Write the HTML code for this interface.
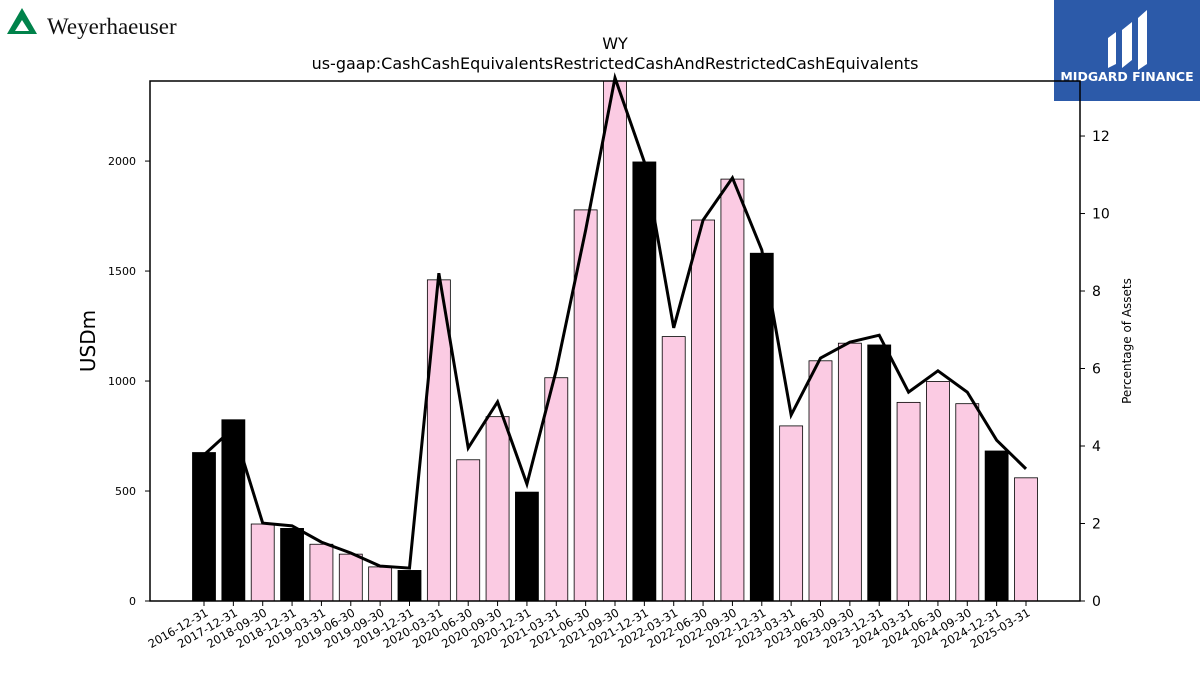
<!DOCTYPE html>
<html><head><meta charset="utf-8"><style>
body{margin:0;background:#fff;}
svg text{font-family:"DejaVu Sans","Liberation Sans",sans-serif;}
</style></head><body>
<svg id="chart" width="1200" height="675" xmlns="http://www.w3.org/2000/svg">
<rect width="1200" height="675" fill="#fff"/>
<g>
<polygon points="22,8 7,34 37,34" fill="#00824a"/>
<polygon points="22,20 15,31 29,31" fill="#fff"/>
<text x="47" y="34" font-family="Liberation Serif,serif" font-size="23" fill="#111" style="font-family:'Liberation Serif',serif">Weyerhaeuser</text>
</g>
<g>
<rect x="1054" y="0" width="146" height="101" fill="#2c5aa9"/>
<path d="M1108,68 L1108,38 L1116,32 L1116,64 Z M1122,68 L1122,30 L1132,22 L1132,60 Z M1138,70 L1138,18 L1147,10 L1147,64 Z" fill="#fff"/>
<text x="1127" y="81" font-size="12.5" font-weight="bold" fill="#fff" text-anchor="middle">MIDGARD FINANCE</text>
</g>
<text x="615" y="49" font-size="16" text-anchor="middle">WY</text>
<text x="615" y="69" font-size="16" text-anchor="middle">us-gaap:CashCashEquivalentsRestrictedCashAndRestrictedCashEquivalents</text>
<g id="bars"></g><g id="xt"></g><g id="yl"></g><g id="yr"></g>
<path id="line" fill="none" stroke="#000" stroke-width="3"/>
<rect x="150" y="81" width="930" height="520" fill="none" stroke="#000" stroke-width="1.5"/>
<text transform="translate(95,341) rotate(-90)" font-size="20" text-anchor="middle">USDm</text>
<text transform="translate(1131,341) rotate(-90)" font-size="12" text-anchor="middle">Percentage of Assets</text>
</svg>
<script>
const categories=["2016-12-31","2017-12-31","2018-09-30","2018-12-31","2019-03-31","2019-06-30","2019-09-30","2019-12-31","2020-03-31","2020-06-30","2020-09-30","2020-12-31","2021-03-31","2021-06-30","2021-09-30","2021-12-31","2022-03-31","2022-06-30","2022-09-30","2022-12-31","2023-03-31","2023-06-30","2023-09-30","2023-12-31","2024-03-31","2024-06-30","2024-09-30","2024-12-31","2025-03-31"];
const cashValues=[675,824,350,330,258,213,155,139,1460,642,838,495,1015,1778,2375,1996,1202,1732,1918,1581,796,1092,1172,1164,903,998,897,682,560];
const pctValues=[3.77,4.46,2.01,1.94,1.52,1.24,0.90,0.85,8.46,3.95,5.14,3.02,5.96,9.57,13.5,11.33,7.05,9.83,10.92,9.06,4.8,6.27,6.68,6.86,5.39,5.94,5.39,4.15,3.41];
const leftTicks=[0,500,1000,1500,2000];
const rightTicks=[0,2,4,6,8,10,12];
const NS="http://www.w3.org/2000/svg";
const x0=150,x1=1080,yT=81,yB=601;
const yMaxL=2364,yMaxR=13.42;
const xs=i=>204+i*(1026-204)/(categories.length-1);
const yL=v=>yB-v/yMaxL*(yB-yT);
const yR=v=>yB-v/yMaxR*(yB-yT);
function mk(t,a,p){const e=document.createElementNS(NS,t);for(const k in a)e.setAttribute(k,a[k]);p.appendChild(e);return e;}
const bars=document.getElementById('bars'),xt=document.getElementById('xt'),yl=document.getElementById('yl'),yr=document.getElementById('yr');
categories.forEach((c,i)=>{
 const black=c.endsWith('12-31');
 const top=Math.max(yL(cashValues[i]),yT);
 const r=mk('rect',{x:xs(i)-11.5,y:top,width:23,height:yB-top,fill:black?'#000':'#fbcbe3',stroke:'#000','stroke-width':0.8},bars);
 
 
 mk('line',{x1:xs(i),x2:xs(i),y1:yB,y2:yB+5,stroke:'#000'},xt);
 const t=mk('text',{transform:`translate(${xs(i)+5},${yB+14}) rotate(-30)`,'font-size':11.5,'text-anchor':'end'},xt);
 t.textContent=c;
 
 
});
leftTicks.forEach(v=>{
 mk('line',{x1:x0-5,x2:x0,y1:yL(v),y2:yL(v),stroke:'#000'},yl);
 const t=mk('text',{x:x0-14,y:yL(v)+4,'font-size':11,'text-anchor':'end'},yl);
 t.textContent=v;
 
 
});
rightTicks.forEach(v=>{
 mk('line',{x1:x1,x2:x1+5,y1:yR(v),y2:yR(v),stroke:'#000'},yr);
 const t=mk('text',{x:x1+12,y:yR(v)+5,'font-size':14},yr);
 t.textContent=v;
 
 
});
document.getElementById('line').setAttribute('d',pctValues.map((v,i)=>(i?'L':'M')+xs(i)+','+yR(v)).join(''));
</script>
</body></html>
